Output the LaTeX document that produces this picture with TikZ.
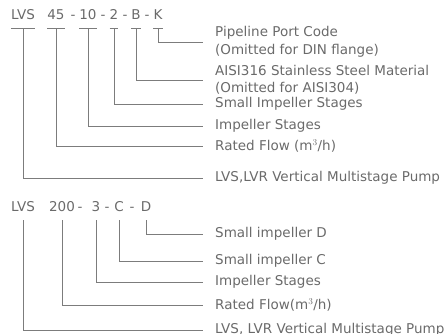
\documentclass[tikz,border=0pt]{standalone}
\usepackage{fontspec}
\setmainfont{DejaVu Sans}
\usetikzlibrary{positioning}
\definecolor{inkgray}{HTML}{6A6A6A}
\definecolor{linegray}{HTML}{7C7C7C}
\tikzset{
  code/.style={text=inkgray, font=\fontsize{13.5}{16}\selectfont, inner xsep=0pt,
    inner ysep=0pt, text height=9.5pt, text depth=9pt, anchor=base},
  desc/.style={text=inkgray, font=\fontsize{13.5}{17.5}\selectfont, inner sep=0pt,
    anchor=west, align=left},
  bar/.style={draw=linegray, line width=0.9pt},
  wire/.style={draw=linegray, line width=0.9pt, shorten >=12pt}
}

\begin{document}
\begin{tikzpicture}[x=1pt,y=-1pt]
  \useasboundingbox (0,0) rectangle (445,333);
  \node[code] (lvsA) at (23,19) {LVS};
  \node[code] (flowA) at (56,19) {45};
  \node[code] (dA1) at (73,19) {-};
  \node[code] (stageA) at (88,19) {10};
  \node[code] (dA2) at (103,19) {-};
  \node[code] (smallA) at (114,19) {2};
  \node[code] (dA3) at (125,19) {-};
  \node[code] (steelA) at (136,19) {B};
  \node[code] (dA4) at (147,19) {-};
  \node[code] (portA) at (158,19) {K};
  \foreach \n in {lvsA,flowA,stageA,smallA,steelA,portA}
    \draw[bar] (\n.south west) -- (\n.south east);
  \node[desc] (portT) at (215,42) {Pipeline Port Code\\(Omitted for DIN flange)};
  \node[desc] (steelT) at (215,80) {AISI316 Stainless Steel Material\\(Omitted for AISI304)};
  \node[desc] (smallT) at (215,104) {Small Impeller Stages};
  \node[desc] (stageT) at (215,126) {Impeller Stages};
  \node[desc] (flowT) at (215,146) {Rated Flow (m$^3$/h)};
  \node[desc] (lvsT) at (215,178) {LVS,LVR Vertical Multistage Pump};
  \draw[wire] (portA.south) |- (portT.west);
  \draw[wire] (steelA.south) |- (steelT.west);
  \draw[wire] (smallA.south) |- (smallT.west);
  \draw[wire] (stageA.south) |- (stageT.west);
  \draw[wire] (flowA.south) |- (flowT.west);
  \draw[wire] (lvsA.south) |- (lvsT.west);

  \node[code] (lvsB) at (23,211) {LVS};
  \node[code] (flowB) at (62,211) {200};
  \node[code] (dB1) at (80,211) {-};
  \node[code] (stageB) at (96,211) {3};
  \node[code] (dB2) at (107,211) {-};
  \node[code] (impC) at (119,211) {C};
  \node[code] (dB3) at (132,211) {-};
  \node[code] (impD) at (146,211) {D};
  \node[desc] (impDT) at (215,234) {Small impeller D};
  \node[desc] (impCT) at (215,261) {Small impeller C};
  \node[desc] (stageBT) at (215,282) {Impeller Stages};
  \node[desc] (flowBT) at (215,305) {Rated Flow(m$^3$/h)};
  \node[desc] (lvsBT) at (215,330) {LVS, LVR Vertical Multistage Pump};
  \draw[wire] (impD.south) |- (impDT.west);
  \draw[wire] (impC.south) |- (impCT.west);
  \draw[wire] (stageB.south) |- (stageBT.west);
  \draw[wire] (flowB.south) |- (flowBT.west);
  \draw[wire] (lvsB.south) |- (lvsBT.west);
\end{tikzpicture}
\end{document}
